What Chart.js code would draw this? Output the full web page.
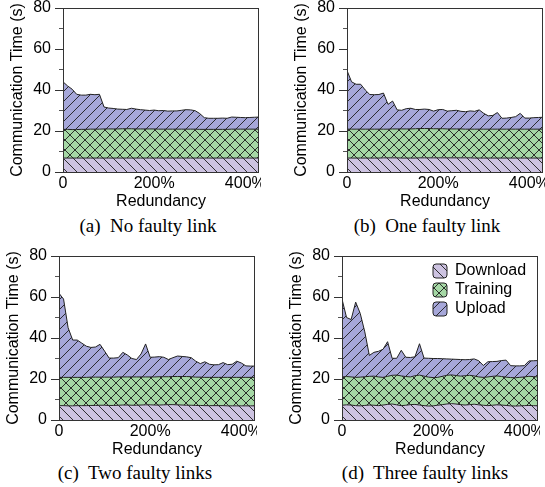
<!DOCTYPE html>
<html>
<head>
<meta charset="utf-8">
<title>Communication time vs redundancy</title>
<script src="https://cdn.jsdelivr.net/npm/chart.js@4.4.1/dist/chart.umd.min.js"></script>
<style>
  html, body { margin: 0; padding: 0; background: #fff; overflow: hidden; }
  body { width: 545px; height: 487px; position: relative; }
  canvas { position: absolute; }
  .cap {
    position: absolute; transform: translate(-50%, -50%); white-space: pre;
    font-family: "Liberation Serif", "Times New Roman", serif; font-size: 19px; color: #000;
  }
</style>
</head>
<body>
<canvas id="chartA" width="256" height="212" style="left:5px;top:0px"></canvas>
<canvas id="chartB" width="256" height="212" style="left:289px;top:0px"></canvas>
<canvas id="chartC" width="256" height="212" style="left:1px;top:248px"></canvas>
<canvas id="chartD" width="256" height="212" style="left:284px;top:248px"></canvas>
<div class="cap" style="left:148px;top:226px">(a)  No faulty link</div>
<div class="cap" style="left:427px;top:226px">(b)  One faulty link</div>
<div class="cap" style="left:135px;top:473px">(c)  Two faulty links</div>
<div class="cap" style="left:425px;top:473px">(d)  Three faulty links</div>
<script>
// redundancy (%) sampled along the x axis
const REDUNDANCY = [0, 10, 20, 30, 40, 50, 60, 70, 80, 90, 100, 110, 120, 130, 140, 150, 160, 170, 180, 190,
  200, 210, 220, 230, 240, 250, 260, 270, 280, 290, 300, 310, 320, 330, 340, 350, 360, 370, 380, 390,
  400, 410, 420, 430];
const X_TICKS = [0, 200, 400];
const Y_TICKS = [0, 20, 40, 60, 80];
const Y_MINOR = [10, 30, 50, 70];
const SERIES = ["Download", "Training", "Upload"];

// (a) no faulty link
const downloadA = [6.8, 6.8, 6.8, 6.8, 6.8, 6.8, 6.8, 6.8, 6.8, 6.8, 6.8, 6.8, 6.8, 6.8, 6.8, 6.8, 6.8, 6.8, 6.8, 6.8,
  6.8, 6.8, 6.8, 6.8, 6.8, 6.8, 6.8, 6.8, 6.8, 6.8, 6.8, 6.8, 6.8, 6.8, 6.8, 6.8, 6.8, 6.8, 6.8, 6.8, 6.8, 6.8, 6.8, 6.8];
const trainingA = [14.0, 14.0, 13.9, 13.9, 14.0, 14.0, 14.1, 14.1, 14.1, 14.2, 14.2, 14.2, 14.2, 14.3, 14.3, 14.3, 14.2, 14.2, 14.2, 14.2,
  14.2, 14.1, 14.1, 14.1, 14.1, 14.1, 14.1, 14.1, 14.1, 14.1, 14.0, 14.0, 14.0, 14.0, 14.0, 14.0, 14.0, 14.1, 14.1, 14.1, 14.1, 14.1, 14.1, 14.1];
const uploadA = [23.2, 21.2, 19.7, 17.2, 16.7, 16.7, 17.0, 16.8, 17.0, 10.7, 10.2, 10.0, 9.7, 9.5, 9.4, 10.0, 9.7, 9.4, 9.2, 9.0,
  9.2, 9.0, 9.1, 8.8, 8.9, 8.9, 9.2, 9.5, 9.4, 9.0, 7.7, 5.7, 5.4, 5.4, 5.4, 5.5, 5.4, 5.9, 5.8, 5.7, 5.6, 5.7, 5.8, 5.9];

// (b) one faulty link
const downloadB = [6.8, 6.8, 6.8, 6.8, 6.8, 6.8, 6.8, 6.8, 6.9, 6.9, 6.9, 6.9, 6.8, 6.8, 6.8, 6.8, 6.9, 6.9, 6.9, 6.9,
  6.9, 6.9, 6.9, 6.9, 6.9, 6.9, 6.9, 6.9, 6.8, 6.8, 6.8, 6.8, 6.8, 6.8, 6.8, 6.8, 6.8, 6.8, 6.8, 6.8, 6.8, 6.8, 6.8, 6.8];
const trainingB = [14.1, 14.1, 14.1, 14.1, 14.1, 14.1, 14.1, 14.1, 14.0, 14.0, 14.1, 14.1, 14.2, 14.2, 14.2, 14.3, 14.3, 14.3, 14.3, 14.2,
  14.2, 14.2, 14.1, 14.1, 14.1, 14.1, 14.0, 14.0, 14.1, 14.1, 14.1, 14.1, 14.1, 14.1, 14.1, 14.1, 14.1, 14.1, 14.1, 14.1, 14.1, 14.1, 14.1, 14.1];
const uploadB = [28.6, 23.1, 21.9, 21.9, 19.1, 16.9, 16.8, 16.9, 17.6, 12.1, 13.6, 9.3, 9.1, 9.9, 10.1, 9.4, 9.3, 9.5, 9.3, 8.6,
  9.3, 9.4, 8.7, 8.9, 9.1, 8.6, 8.5, 8.9, 8.7, 9.4, 7.7, 6.5, 6.7, 8.1, 5.3, 5.4, 5.7, 6.1, 7.7, 5.4, 5.4, 5.6, 5.7, 5.8];

// (c) two faulty links
const downloadC = [7.0, 7.0, 6.9, 6.9, 7.0, 7.0, 7.0, 7.1, 7.1, 7.2, 7.2, 7.1, 7.1, 7.2, 7.3, 7.3, 7.2, 7.2, 7.3, 7.4,
  7.4, 7.3, 7.3, 7.4, 7.5, 7.5, 7.4, 7.3, 7.2, 7.2, 7.1, 7.1, 7.0, 7.0, 7.0, 7.0, 7.0, 6.9, 6.9, 6.9, 6.9, 6.9, 6.9, 6.9];
const trainingC = [13.8, 13.8, 13.9, 13.9, 13.8, 13.8, 13.8, 13.8, 13.8, 13.7, 13.7, 13.8, 13.8, 13.8, 13.7, 13.7, 13.8, 13.8, 13.7, 13.6,
  13.6, 13.7, 13.8, 13.7, 13.6, 13.7, 13.8, 13.9, 14.0, 13.9, 13.8, 13.8, 13.8, 13.8, 13.8, 13.8, 13.8, 13.9, 13.9, 13.9, 13.9, 13.9, 13.9, 13.9];
const uploadC = [41.0, 38.2, 24.2, 18.2, 18.2, 16.7, 15.2, 14.5, 14.7, 16.0, 12.7, 9.3, 9.3, 9.4, 12.0, 10.7, 9.0, 8.5, 11.2, 16.1,
  9.6, 9.7, 9.8, 9.5, 8.4, 9.2, 10.0, 9.8, 9.6, 9.3, 7.8, 6.6, 7.6, 6.4, 6.1, 6.2, 7.2, 6.2, 6.4, 7.9, 7.0, 5.6, 5.5, 5.5];

// (d) three faulty links
const downloadD = [7.2, 7.4, 7.3, 7.0, 6.9, 7.1, 7.3, 7.2, 7.0, 7.3, 7.6, 7.8, 7.4, 7.0, 7.2, 7.5, 7.6, 7.3, 7.0, 6.8,
  6.9, 7.2, 7.5, 7.8, 8.0, 7.8, 7.5, 7.3, 7.5, 7.7, 7.4, 7.2, 7.0, 7.2, 7.4, 7.3, 7.1, 6.9, 6.8, 6.9, 7.0, 7.1, 7.0, 6.9];
const trainingD = [13.8, 13.8, 13.7, 13.8, 14.0, 14.0, 14.0, 14.2, 14.0, 13.5, 13.7, 14.0, 14.5, 14.5, 14.0, 13.5, 14.0, 14.6, 14.4, 14.1,
  13.8, 13.6, 13.8, 14.0, 14.0, 13.9, 13.9, 14.3, 14.3, 13.8, 13.6, 13.6, 14.0, 14.1, 14.1, 13.9, 13.8, 13.8, 13.8, 13.9, 14.0, 14.2, 14.2, 14.1];
const uploadD = [38.0, 28.8, 28.0, 36.7, 31.1, 21.9, 10.2, 11.6, 12.5, 13.7, 16.9, 8.3, 8.2, 12.5, 9.4, 9.5, 9.2, 15.3, 8.8, 9.2,
  9.3, 9.2, 8.6, 8.0, 7.7, 7.9, 8.1, 7.8, 7.7, 8.3, 7.9, 5.8, 7.4, 7.2, 7.1, 7.8, 8.3, 5.8, 5.8, 5.6, 5.5, 7.5, 7.7, 8.0];

const FONT = '"Liberation Sans", Arial, Helvetica, sans-serif';
const AXIS_SIZE = 16;
Chart.defaults.font.family = FONT;
Chart.defaults.color = "#000";

function hatch(bg, kind) {
  const s = 10;
  const c = document.createElement("canvas");
  c.width = s;
  c.height = s;
  const g = c.getContext("2d");
  g.fillStyle = bg;
  g.fillRect(0, 0, s, s);
  g.strokeStyle = "#1c1c1c";
  g.lineWidth = 0.9;
  g.beginPath();
  if (kind === "/" || kind === "x") {
    g.moveTo(0, s); g.lineTo(s, 0);
    g.moveTo(-s / 2, s / 2); g.lineTo(s / 2, -s / 2);
    g.moveTo(s / 2, s * 1.5); g.lineTo(s * 1.5, s / 2);
  }
  if (kind === "\\" || kind === "x") {
    g.moveTo(0, 0); g.lineTo(s, s);
    g.moveTo(s / 2, -s / 2); g.lineTo(s * 1.5, s / 2);
    g.moveTo(-s / 2, s / 2); g.lineTo(s / 2, s * 1.5);
  }
  g.stroke();
  return g.createPattern(c, "repeat");
}

const fills = [hatch("#cdc3e1", "\\"), hatch("#a5d8a5", "x"), hatch("#a6a7d9", "/")];

const frame = {
  id: "frame",
  afterDatasetsDraw(chart) {
    const { ctx, chartArea: a } = chart;
    ctx.save();
    ctx.strokeStyle = "#333";
    ctx.lineWidth = 1;
    ctx.strokeRect(Math.round(a.left) + 0.5, Math.round(a.top) + 0.5,
      Math.round(a.right - a.left) - 1, Math.round(a.bottom - a.top));
    ctx.restore();
  },
};

// legend sits inside the plot, top right
const legendSpot = {
  id: "legendSpot",
  afterLayout(chart) {
    const lg = chart.legend;
    if (!lg || !lg.options.display) return;
    const w = lg.width, h = lg.height;
    lg.left = 146;
    lg.top = 12;
    lg.right = lg.left + w;
    lg.bottom = lg.top + h;
  },
};

function points(vals) {
  return REDUNDANCY.map((x, i) => ({ x, y: vals[i] }));
}

function makeChart(id, download, training, upload, showLegend) {
  const series = [download, training, upload];
  return new Chart(document.getElementById(id), {
    type: "line",
    data: {
      datasets: series.map((vals, i) => ({
        label: SERIES[i],
        data: points(vals),
        fill: i === 0 ? "origin" : "-1",
        backgroundColor: fills[i],
        borderColor: "#222",
        borderWidth: 1,
        pointRadius: 0,
        pointHoverRadius: 0,
        tension: 0,
      })),
    },
    options: {
      responsive: false,
      animation: false,
      layout: { padding: { left: 0, top: 8, right: 2, bottom: 0 } },
      plugins: {
        legend: {
          display: showLegend,
          position: "chartArea",
          align: "start",
          labels: {
            boxWidth: 14,
            boxHeight: 14,
            padding: 3,
            useBorderRadius: true,
            borderRadius: 3,
            color: "#000",
            font: { size: 16 },
          },
        },
        tooltip: { enabled: false },
      },
      scales: {
        x: {
          type: "linear",
          min: 0,
          max: 430,
          afterBuildTicks: (s) => { s.ticks = X_TICKS.map((v) => ({ value: v })); },
          afterFit: (s) => { s.height = 40; s.paddingLeft = 0; s.paddingRight = 0; },
          ticks: {
            autoSkip: false,
            maxRotation: 0,
            padding: 2,
            color: "#000",
            font: { size: AXIS_SIZE },
            callback: (v) => (v === 0 ? "0" : v + "%"),
          },
          grid: { drawOnChartArea: false, drawTicks: false },
          border: { display: false },
          title: {
            display: true,
            text: "Redundancy",
            color: "#000",
            font: { size: AXIS_SIZE },
            padding: { top: 0, bottom: 1 },
          },
        },
        y: {
          type: "linear",
          position: "left",
          stacked: true,
          weight: 1,
          min: 0,
          max: 80,
          afterBuildTicks: (s) => { s.ticks = Y_TICKS.map((v) => ({ value: v })); },
          afterFit: (s) => { s.width = 58; s.paddingTop = 0; s.paddingBottom = 0; },
          ticks: { padding: 4, color: "#000", font: { size: AXIS_SIZE } },
          grid: { drawOnChartArea: false, tickLength: 8, tickColor: "#333", tickWidth: 1 },
          border: { display: false },
          title: {
            display: true,
            text: "Communication Time (s)",
            color: "#000",
            font: { size: AXIS_SIZE },
            padding: { top: 3, bottom: 0 },
          },
        },
        yMinor: {
          type: "linear",
          position: "left",
          weight: 0,
          min: 0,
          max: 80,
          afterBuildTicks: (s) => { s.ticks = Y_MINOR.map((v) => ({ value: v })); },
          afterFit: (s) => { s.width = 0; s.paddingTop = 0; s.paddingBottom = 0; },
          ticks: { display: false },
          grid: { drawOnChartArea: false, tickLength: 4, tickColor: "#555", tickWidth: 1 },
          border: { display: false },
        },
      },
    },
    plugins: [frame, legendSpot],
  });
}

makeChart("chartA", downloadA, trainingA, uploadA, false);
makeChart("chartB", downloadB, trainingB, uploadB, false);
makeChart("chartC", downloadC, trainingC, uploadC, false);
makeChart("chartD", downloadD, trainingD, uploadD, true);
</script>
</body>
</html>
